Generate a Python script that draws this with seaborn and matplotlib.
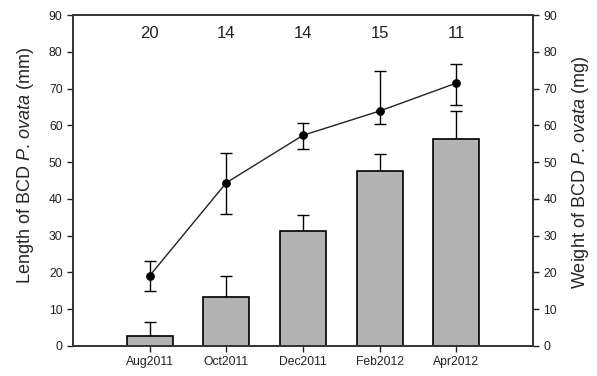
import numpy as np
import pandas as pd
import matplotlib
matplotlib.use("Agg")
import matplotlib.pyplot as plt
import seaborn as sns

months = ["Aug2011", "Oct2011", "Dec2011", "Feb2012", "Apr2012"]
counts = ["20", "14", "14", "15", "11"]
bar_values = [2.8, 13.3, 31.3, 47.6, 56.2]
bar_err = [3.8, 5.6, 4.3, 4.6, 7.7]
line_values = [19.1, 44.4, 57.3, 63.9, 71.5]
line_err_up = [4.1, 8.2, 3.4, 10.9, 5.1]
line_err_dn = [4.1, 8.5, 3.7, 3.5, 5.9]
ticks = [0, 10, 20, 30, 40, 50, 60, 70, 80, 90]

sns.set_theme(style="ticks")
plt.rcParams["font.family"] = ["Liberation Sans", "DejaVu Sans"]
plt.rcParams["mathtext.fontset"] = "custom"
plt.rcParams["mathtext.rm"] = "Liberation Sans"
plt.rcParams["mathtext.it"] = "Liberation Sans:italic"

fig = plt.figure(figsize=(5.97, 3.76), dpi=100)
ax = fig.add_axes([0.1223, 0.0798, 0.7705, 0.8802])

pos = np.arange(len(months))
df = pd.DataFrame({"month": months, "bar": bar_values, "line": line_values, "pos": pos})

sns.barplot(data=df, x="month", y="bar", color="#b3b3b3", saturation=1,
            edgecolor="black", linewidth=1.2, width=0.6, ax=ax, zorder=2)
ax.errorbar(pos, bar_values, yerr=[np.zeros(len(pos)), bar_err], fmt="none",
            ecolor="black", elinewidth=1.0, capsize=4, capthick=1.0, zorder=1)

sns.lineplot(data=df, x="pos", y="line", color="#222222", linewidth=1.0,
             marker="o", markersize=5.5, markeredgecolor="black",
             markerfacecolor="black", ax=ax, zorder=4)
ax.errorbar(pos, line_values, yerr=[line_err_dn, line_err_up], fmt="none",
            ecolor="black", elinewidth=1.0, capsize=4, capthick=1.0, zorder=3)

for p, c in zip(pos, counts):
    ax.text(p, 85, c, ha="center", va="center", fontsize=12, color="#222222")

ax.set_xlim(-1, 5)
ax.set_ylim(0, 90)
ax.set_yticks(ticks)
ax.set_xlabel("")
ax.set_ylabel("Length of BCD $\\it{P.}\\,\\it{ovata}$ (mm)", fontsize=13)
ax.yaxis.set_label_coords(-0.08, 0.547)
ax.tick_params(axis="both", labelsize=8.7, length=4, width=1, direction="out",
               colors="#222222")

for s in ax.spines.values():
    s.set_visible(True)
    s.set_linewidth(1.2)
    s.set_color("#333333")

ax2 = ax.twinx()
ax2.set_position([0.1223, 0.0798, 0.7705, 0.8802])
ax2.set_ylim(0, 90)
ax2.set_yticks(ticks)
ax2.tick_params(axis="y", labelsize=8.7, length=4, width=1, direction="out",
                colors="#222222")
ax2.set_ylabel("Weight of BCD $\\it{P.}\\,\\it{ovata}$ (mg)", fontsize=13)
ax2.yaxis.set_label_coords(1.08, 0.526)
for s in ax2.spines.values():
    s.set_visible(True)
    s.set_linewidth(1.2)
    s.set_color("#333333")

fig.savefig("out.png", dpi=100)
